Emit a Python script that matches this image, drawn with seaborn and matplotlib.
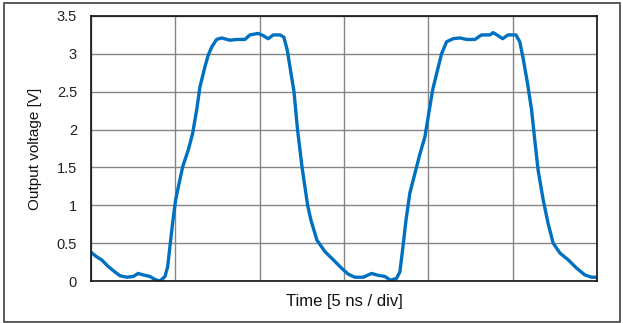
import numpy as np
import pandas as pd
import seaborn as sns
import matplotlib.pyplot as plt
from matplotlib.patches import Rectangle

# time in ns (5 ns per division), output voltage in V
time_ns = [
    0.00, 0.34, 0.63, 1.03, 1.42, 1.72, 2.12, 2.51, 2.80, 3.10, 3.50, 3.79,
    4.09, 4.39, 4.55, 4.68, 4.84, 5.02, 5.18, 5.44, 5.77, 6.03, 6.27, 6.46,
    6.76, 6.95, 7.16, 7.45, 7.75, 8.24, 8.64, 9.13, 9.43, 9.92, 10.22, 10.51,
    10.81, 11.21, 11.44, 11.64, 11.80, 12.04, 12.25, 12.52, 12.85, 13.05,
    13.40, 13.87, 14.37, 14.86, 15.26, 15.65, 16.15, 16.64, 17.03, 17.43,
    17.77, 18.12, 18.32, 18.48, 18.68, 18.91, 19.21, 19.51, 19.80, 20.00,
    20.26, 20.50, 20.79, 21.09, 21.48, 21.88, 22.28, 22.77, 23.16, 23.66,
    23.85, 24.15, 24.41, 24.74, 25.20, 25.43, 25.63, 25.89, 26.13, 26.32,
    26.52, 26.82, 27.11, 27.41, 27.81, 28.30, 28.80, 29.29, 29.69, 29.98,
]
voltage = [
    0.38, 0.32, 0.28, 0.19, 0.12, 0.07, 0.05, 0.06, 0.10, 0.08, 0.06, 0.02,
    0.00, 0.06, 0.19, 0.45, 0.76, 1.07, 1.24, 1.51, 1.73, 1.95, 2.26, 2.56,
    2.83, 2.98, 3.09, 3.19, 3.21, 3.18, 3.19, 3.19, 3.25, 3.27, 3.24, 3.20,
    3.25, 3.25, 3.22, 3.05, 2.83, 2.50, 2.00, 1.50, 1.00, 0.80,
    0.54, 0.39, 0.28, 0.17, 0.09, 0.05, 0.05, 0.10, 0.075, 0.06,
    0.01, 0.035, 0.12, 0.41, 0.80, 1.16, 1.42, 1.68, 1.90, 2.17,
    2.52, 2.74, 3.00, 3.16, 3.20, 3.21, 3.19, 3.19, 3.25, 3.25,
    3.28, 3.24, 3.20, 3.25, 3.25, 3.16, 2.94, 2.61, 2.26, 1.86,
    1.46, 1.07, 0.76, 0.50, 0.37, 0.28, 0.17, 0.08, 0.05, 0.05,
]
y_ticks = [0, 0.5, 1, 1.5, 2, 2.5, 3, 3.5]
y_tick_labels = ["0", "0.5", "1", "1.5", "2", "2.5", "3", "3.5"]
x_divs = [0, 5, 10, 15, 20, 25, 30]

df = pd.DataFrame({"time": time_ns, "voltage": voltage})

sns.set_style("white")
plt.rcParams["font.family"] = ["Liberation Sans", "DejaVu Sans"]

fig = plt.figure(figsize=(6.23, 3.23), dpi=100)
ax = fig.add_axes([0.146, 0.130, 0.812, 0.8205])

sns.lineplot(data=df, x="time", y="voltage", color="#0070C0", linewidth=2.4,
             estimator=None, sort=False, ax=ax)

ax.set_xlim(0, 30)
ax.set_ylim(0, 3.5)
ax.set_xticks(x_divs)
ax.set_xticklabels([])
ax.set_yticks(y_ticks)
ax.set_yticklabels(y_tick_labels, fontsize=10.5)
ax.tick_params(axis="both", length=0, pad=10, colors="#202020")
ax.grid(True, color="#858585", linewidth=1.0)
ax.set_axisbelow(True)
for s in ax.spines.values():
    s.set_color("#111111")
    s.set_linewidth(1.2)

ax.set_xlabel("Time [5 ns / div]", fontsize=12, color="#111111")
ax.set_ylabel("Output voltage [V]", fontsize=11, color="#111111")
ax.xaxis.set_label_coords(0.5, -0.05)
ax.yaxis.set_label_coords(-0.097, 0.5)

# outer frame around the chart
fig.patches.append(Rectangle((4 / 623, 1.5 / 323), 616 / 623, 319 / 323,
                             transform=fig.transFigure, fill=False,
                             edgecolor="#404040", linewidth=1.2))

plt.savefig("out.png", dpi=100)
